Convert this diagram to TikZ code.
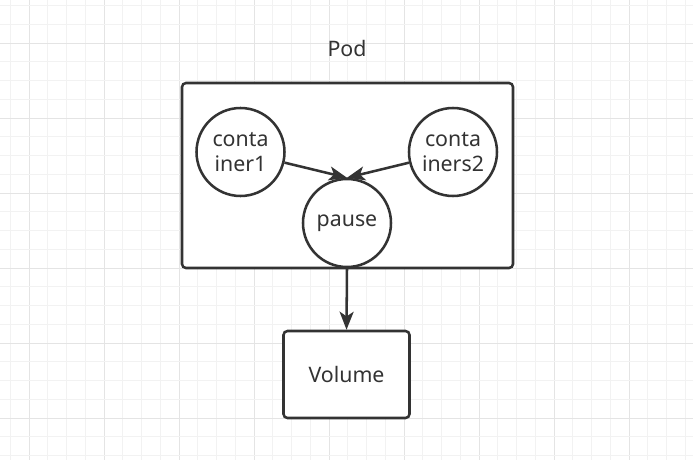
\documentclass[tikz,border=0pt]{standalone}
\usepackage{fontspec}
\setmainfont{Noto Sans}
\usetikzlibrary{arrows.meta}
\definecolor{ink}{HTML}{333333}
\definecolor{gridminor}{HTML}{F2F2F2}
\definecolor{gridmajor}{HTML}{E4E4E4}
\begin{document}
\begin{tikzpicture}[x=0.75pt,y=-0.75pt,
  every node/.style={font=\fontsize{16pt}{18.5pt}\selectfont, text=ink},
  shapeline/.style={draw=ink, line width=1.9pt, fill=white},
  roundbox/.style={shapeline, rectangle, rounded corners=3pt, inner sep=0pt},
  circ/.style={shapeline, circle, minimum size=66pt, inner sep=0pt, align=center},
  conn/.style={draw=ink, line width=1.9pt, -{Stealth[length=13.5pt,width=10.5pt,inset=3.5pt]}}]
\useasboundingbox (0,0) rectangle (693,460);
\fill[white] (0,0) rectangle (693,460);
% grid
\foreach \k in {0,...,36}{
  \pgfmathsetmacro{\gx}{10.3+18.75*\k}
  \pgfmathtruncatemacro{\m}{mod(\k+3,4)}
  \ifnum\m=0
    \draw[gridmajor, line width=0.75pt] (\gx,0) -- (\gx,460);
  \else
    \draw[gridminor, line width=0.75pt] (\gx,0) -- (\gx,460);
  \fi
}
\foreach \k in {0,...,24}{
  \pgfmathsetmacro{\gy}{5.7+18.75*\k}
  \pgfmathtruncatemacro{\m}{mod(\k+2,4)}
  \ifnum\m=0
    \draw[gridmajor, line width=0.75pt] (0,\gy) -- (693,\gy);
  \else
    \draw[gridminor, line width=0.75pt] (0,\gy) -- (693,\gy);
  \fi
}
% pod box
\node[roundbox, minimum width=248.25pt, minimum height=138.75pt] (pod) at (347.5,175.5) {};
\node (podlabel) at (347,49) {Pod};
\node[circ] (c1) at (240.5,152) {conta\\iner1};
\node[circ] (c2) at (453,152) {conta\\iners2};
\node[circ] (pause) at (347,223) {pause};
\node[roundbox, minimum width=94.5pt, minimum height=65.25pt] (vol) at (346.5,374.5) {Volume};
\draw[conn] (c1) -- (pause.north);
\draw[conn] (c2) -- (pause.north);
\draw[conn] (pause.south) -- (vol.north);
\end{tikzpicture}
\end{document}
